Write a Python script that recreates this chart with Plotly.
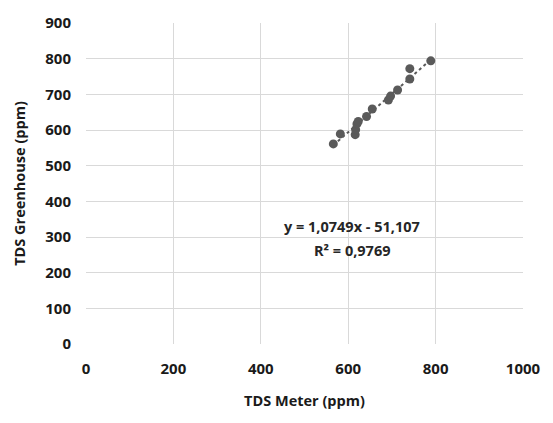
import plotly.graph_objects as go

# TDS readings: handheld meter vs greenhouse sensor (ppm)
tds_meter = [566, 582, 616, 617, 620, 623, 642, 655, 692, 697, 713, 741, 741, 789]
tds_greenhouse = [561, 589, 587, 601, 617, 624, 638, 659, 684, 695, 712, 743, 772, 794]

# Linear fit reported for the data
slope = 1.0749
intercept = -51.107
r_squared = 0.9769

x_ticks = [0, 200, 400, 600, 800, 1000]
y_ticks = [0, 100, 200, 300, 400, 500, 600, 700, 800, 900]

mark_color = "#5a5a5a"
grid_color = "#d9d9d9"
font_family = "Open Sans, Liberation Sans, sans-serif"

fit_x = [min(tds_meter), max(tds_meter)]
fit_y = [slope * v + intercept for v in fit_x]

fig = go.Figure()
fig.add_trace(go.Scatter(
    x=fit_x, y=fit_y, mode="lines",
    line=dict(color=mark_color, width=2, dash="dot"),
    hoverinfo="skip", showlegend=False,
))
fig.add_trace(go.Scatter(
    x=tds_meter, y=tds_greenhouse, mode="markers",
    marker=dict(color=mark_color, size=9),
    showlegend=False,
))

eq_text = f"y = {slope:.4f}x - {abs(intercept):.3f}".replace(".", ",")
r2_text = f"R² = {r_squared:.4f}".replace(".", ",")
fig.add_annotation(x=609, y=329, text=f"<b>{eq_text}</b>", showarrow=False,
                   font=dict(size=14.5, color="#262626", family=font_family))
fig.add_annotation(x=609, y=262, text=f"<b>{r2_text}</b>", showarrow=False,
                   font=dict(size=14.5, color="#262626", family=font_family))

fig.update_layout(
    width=553, height=423,
    margin=dict(l=86, r=22, t=21, b=79),
    paper_bgcolor="white", plot_bgcolor="white",
    font=dict(family=font_family, size=15, color="#1a1a1a"),
    xaxis=dict(
        range=[0, 1000], tickvals=x_ticks, ticktext=[f"<b>{v}</b>" for v in x_ticks],
        showgrid=True, gridcolor=grid_color, gridwidth=1,
        zeroline=False, showline=False, ticks="", ticklabelstandoff=14,
        tickfont=dict(size=15),
        title=dict(text="<b>TDS Meter (ppm)</b>", standoff=18, font=dict(size=14.5)),
    ),
    yaxis=dict(
        range=[0, 900], tickvals=y_ticks, ticktext=[f"<b>{v}</b>" for v in y_ticks],
        showgrid=True, gridcolor=grid_color, gridwidth=1,
        zeroline=False, showline=False, ticks="", ticklabelstandoff=14,
        tickfont=dict(size=15),
        title=dict(text="<b>TDS Greenhouse (ppm)</b>", standoff=16, font=dict(size=14.5)),
    ),
)

fig.write_html("out.html")
